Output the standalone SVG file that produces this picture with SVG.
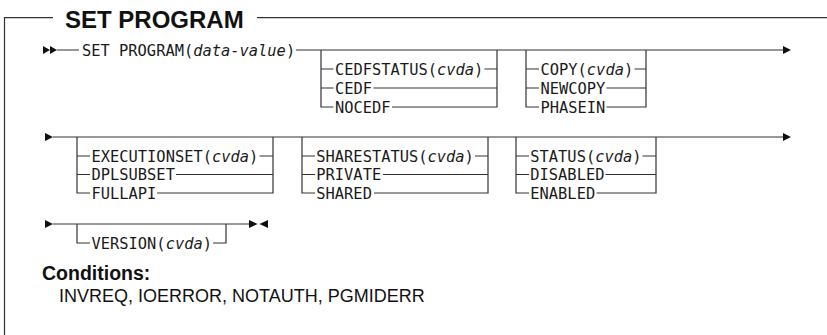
<svg xmlns="http://www.w3.org/2000/svg" width="827" height="335" viewBox="0 0 827 335">
<style>
.m{font-family:"DejaVu Sans Mono","Liberation Mono",monospace;font-size:15.4px;fill:#1a1a1a}
.i{font-style:italic}
.ln{fill:none;stroke:#333;stroke-width:1.2}
.ar{fill:#111}
.h{font-family:"Liberation Sans",Arial,sans-serif;font-weight:bold;fill:#111}
.c{font-family:"Liberation Sans",Arial,sans-serif;fill:#111}
</style>
<rect width="827" height="335" fill="#fff"/>
<g id="frame">
<path class="ln" d="M4.5,335 V17.7 H53 M257,17.7 H827" stroke="#222"/>
<text class="h" x="65" y="27.5" font-size="24">SET PROGRAM</text>
</g>
<g id="connectors">
<path class="ln" d="M57,50 H79 M296,50 H784"/>
<path class="ln" d="M53,137 H784"/>
<path class="ln" d="M53,224 H250"/>
<path class="ln" d="M321,50 V107 H333.5 M321,69 H333.5 M321,88 H333.5"/>
<path class="ln" d="M497,50 V107 H392 M497,69 H484.5 M497,88 H373.5"/>
<path class="ln" d="M526,50 V107 H539 M526,69 H539 M526,88 H539"/>
<path class="ln" d="M646,50 V107 H606.5 M646,69 H634.5 M646,88 H606.5"/>
<path class="ln" d="M77,137 V193 H90 M77,156 H90 M77,174.5 H90"/>
<path class="ln" d="M273,137 V193 H157 M273,156 H259.5 M273,174.5 H176"/>
<path class="ln" d="M302,137 V193 H315 M302,156 H315 M302,174.5 H315"/>
<path class="ln" d="M488,137 V193 H374 M488,156 H475 M488,174.5 H383"/>
<path class="ln" d="M516,137 V193 H529 M516,156 H529 M516,174.5 H529"/>
<path class="ln" d="M656,137 V193 H596.5 M656,156 H642.5 M656,174.5 H605.5"/>
<path class="ln" d="M77,224 V243 H90 M226,224 V243 H213"/>
<polygon class="ar" points="43,46 50,50 43,54"/>
<polygon class="ar" points="50,46 57,50 50,54"/>
<polygon class="ar" points="783,46 791,50 783,54"/>
<polygon class="ar" points="45,133 53,137 45,141"/>
<polygon class="ar" points="783,133 791,137 783,141"/>
<polygon class="ar" points="45,220 53,224 45,228"/>
<polygon class="ar" points="249,220 257.5,224 249,228"/>
<polygon class="ar" points="268,220 259.5,224 268,228"/>
</g>
<g id="n-setprogram"><text class="m" x="82" y="55.8">SET PROGRAM(<tspan class="i">data-value</tspan>)</text></g>
<g id="n-cedfstatus"><text class="m" x="335" y="74.8">CEDFSTATUS(<tspan class="i">cvda</tspan>)</text></g>
<g id="n-cedf"><text class="m" x="335" y="93.8">CEDF</text></g>
<g id="n-nocedf"><text class="m" x="335" y="112.8">NOCEDF</text></g>
<g id="n-copy"><text class="m" x="540.5" y="74.8">COPY(<tspan class="i">cvda</tspan>)</text></g>
<g id="n-newcopy"><text class="m" x="540.5" y="93.8">NEWCOPY</text></g>
<g id="n-phasein"><text class="m" x="540.5" y="112.8">PHASEIN</text></g>
<g id="n-executionset"><text class="m" x="91.5" y="161.8">EXECUTIONSET(<tspan class="i">cvda</tspan>)</text></g>
<g id="n-dplsubset"><text class="m" x="91.5" y="180.3">DPLSUBSET</text></g>
<g id="n-fullapi"><text class="m" x="91.5" y="198.8">FULLAPI</text></g>
<g id="n-sharestatus"><text class="m" x="316.3" y="161.8">SHARESTATUS(<tspan class="i">cvda</tspan>)</text></g>
<g id="n-private"><text class="m" x="316.3" y="180.3">PRIVATE</text></g>
<g id="n-shared"><text class="m" x="316.3" y="198.8">SHARED</text></g>
<g id="n-status"><text class="m" x="530.3" y="161.8">STATUS(<tspan class="i">cvda</tspan>)</text></g>
<g id="n-disabled"><text class="m" x="530.3" y="180.3">DISABLED</text></g>
<g id="n-enabled"><text class="m" x="530.3" y="198.8">ENABLED</text></g>
<g id="n-version"><text class="m" x="91.5" y="248.8">VERSION(<tspan class="i">cvda</tspan>)</text></g>
<g id="conditions">
<text class="h" x="42" y="280" font-size="19.5">Conditions:</text>
<text class="c" x="59" y="302" font-size="18">INVREQ, IOERROR, NOTAUTH, PGMIDERR</text>
</g>
</svg>
